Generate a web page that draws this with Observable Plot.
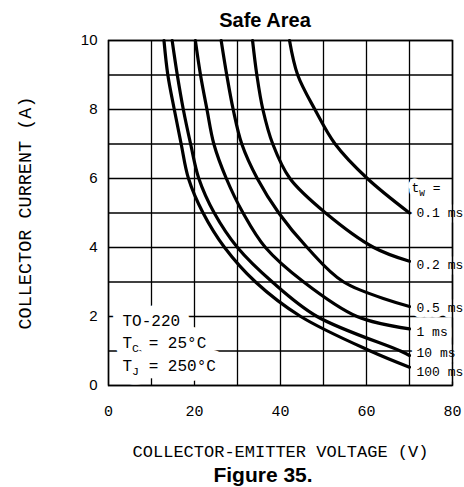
<!DOCTYPE html>
<html><head><meta charset="utf-8">
<script src="https://cdn.jsdelivr.net/npm/d3@7"></script>
<script src="https://cdn.jsdelivr.net/npm/@observablehq/plot@0.6"></script>
<style>
body{margin:0;background:#fff;}
#wrap{position:relative;width:464px;height:487px;overflow:hidden;}
#title{position:absolute;left:0;top:10px;width:464px;padding-left:66px;box-sizing:border-box;text-align:center;font:bold 20px "Liberation Sans",Arial,sans-serif;line-height:20px;color:#000;}
#chart{position:absolute;left:0;top:30px;}
#caption{position:absolute;left:0;top:464px;width:464px;padding-left:62px;box-sizing:border-box;text-align:center;font:bold 21px "Liberation Sans",Arial,sans-serif;line-height:21px;color:#000;}
</style></head>
<body>
<div id="wrap">
<div id="title">Safe Area</div>
<div id="chart"></div>
<div id="caption">Figure 35.</div>
</div>
<script>
// ---- data ----
const pulseWidths = ["0.1 ms", "0.2 ms", "0.5 ms", "1 ms", "10 ms", "100 ms"];

const volts_0p1ms = [42.1, 44.0, 48.0, 52.7, 60.2, 70];
const amps_0p1ms  = [10, 9, 8, 7, 6, 5];

const volts_0p2ms = [33.5, 34.5, 35.9, 38.2, 42.2, 50.5, 61.7, 70];
const amps_0p2ms  = [10, 9, 8, 7, 6, 5, 4, 3.6];

const volts_0p5ms = [26.2, 27.5, 29.0, 31.0, 34.6, 39.6, 46.2, 54.7, 70];
const amps_0p5ms  = [10, 9, 8, 7, 6, 5, 4, 3, 2.29];

const volts_1ms = [20.2, 21.4, 22.9, 24.5, 27.4, 31.3, 36.5, 45.4, 57.8, 70];
const amps_1ms  = [10, 9, 8, 7, 6, 5, 4, 3, 2, 1.64];

const volts_10ms = [14.8, 16.0, 17.4, 19.1, 21.0, 24.6, 30.0, 38.1, 48.5, 67.9, 70];
const amps_10ms  = [10, 9, 8, 7, 6, 5, 4, 3, 2, 1, 0.87];

const volts_100ms = [12.9, 13.8, 15.3, 16.9, 18.6, 22.0, 27.0, 34.2, 44.7, 60.9, 70];
const amps_100ms  = [10, 9, 8, 7, 6, 5, 4, 3, 2, 1, 0.53];

const xTickLabels = [0, 20, 40, 60, 80];
const yTickLabels = [0, 2, 4, 6, 8, 10];
const xGridValues = [0, 10, 20, 30, 40, 50, 60, 70, 80];
const yGridValues = [0, 1, 2, 3, 4, 5, 6, 7, 8, 9, 10];

const legendLines = ["TO-220", "T_{C} = 25°C", "T_{J} = 250°C"];
const pulseHeading = "t_{W} =";
const xTitle = "COLLECTOR-EMITTER VOLTAGE (V)";
const yTitle = "COLLECTOR CURRENT (A)";

// ---- build table ----
const seriesVolts = [volts_0p1ms, volts_0p2ms, volts_0p5ms, volts_1ms, volts_10ms, volts_100ms];
const seriesAmps  = [amps_0p1ms, amps_0p2ms, amps_0p5ms, amps_1ms, amps_10ms, amps_100ms];
const points = pulseWidths.flatMap((tw, k) => seriesVolts[k].map((v, j) => ({tw, v, a: seriesAmps[k][j]})));
const ends = pulseWidths.map((tw, k) => ({tw, v: seriesVolts[k].at(-1), a: seriesAmps[k].at(-1)}));

// styling nudges for label placement (pixels)
const labelNudge = {"0.1 ms": 0, "0.2 ms": 4, "0.5 ms": 1, "1 ms": 3, "10 ms": -3, "100 ms": 5};

const mono = "'Liberation Mono', 'DejaVu Sans Mono', monospace";
const sans = "'Liberation Sans', Arial, sans-serif";

// annotation specs: [data, options, halo width]
const labelStyle = {x: "v", y: "a", textAnchor: "start", dx: 7, fontFamily: mono, fontSize: 13};
const legendStyle = {frameAnchor: "bottom-left", textAnchor: "start", lineAnchor: "bottom", dx: 14, fontFamily: mono, fontSize: 16};
const annotations = [
  ...ends.map(d => [[d], {...labelStyle, text: "tw", dy: labelNudge[d.tw]}, 11]),
  [ends.slice(0, 1), {...labelStyle, text: () => pulseHeading, dx: 2, dy: -25}, 9],
  [legendLines.slice(0, 1), {...legendStyle, dy: -60}, 20],
  [legendLines.slice(1, 2), {...legendStyle, dy: -38}, 20],
  [legendLines.slice(2, 3), {...legendStyle, dy: -15}, 20]
];
// all white knock-outs first, then all black texts
const haloMarks = annotations.map(([d, o, w]) => Plot.text(d, {...o, fill: "white", stroke: "white", strokeWidth: w, strokeLinejoin: "round"}));
const textMarks = annotations.map(([d, o]) => Plot.text(d, {...o, fill: "black"}));

const chart = Plot.plot({
  width: 464, height: 434,
  marginTop: 10, marginLeft: 108, marginRight: 12, marginBottom: 79,
  x: {domain: [0, 80]},
  y: {domain: [0, 10]},
  style: {background: "white", color: "black"},
  marks: [
    Plot.gridX(xGridValues, {stroke: "black", strokeOpacity: 1, strokeWidth: 1.3}),
    Plot.gridY(yGridValues, {stroke: "black", strokeOpacity: 1, strokeWidth: 1.3}),
    Plot.line(points, {x: "v", y: "a", z: "tw", stroke: "black", strokeWidth: 3.2, curve: "catmull-rom"}),
    ...haloMarks,
    Plot.frame({stroke: "black", strokeWidth: 1.5}),
    ...textMarks,
    Plot.axisX(xTickLabels, {tickSize: 0, tickPadding: 20, fontFamily: mono, fontSize: 15, label: null}),
    Plot.axisY(yTickLabels, {tickSize: 0, tickPadding: 11, fontFamily: sans, fontSize: 15, label: null}),
    Plot.text([xTitle], {frameAnchor: "bottom", textAnchor: "middle", dy: 71, fontFamily: mono, fontSize: 17}),
    Plot.text([yTitle], {frameAnchor: "left", textAnchor: "middle", rotate: -90, dx: -83, fontFamily: mono, fontSize: 18.5})
  ]
});

// subscripts: "X_{s}rest"
const NS = "http://www.w3.org/2000/svg";
chart.querySelectorAll("text").forEach(t => {
  const s = t.textContent;
  const m = s.match(/^(.*?)_\{(.*?)\}(.*)$/);
  if (!m) return;
  t.textContent = "";
  const a = document.createElementNS(NS, "tspan"); a.textContent = m[1];
  const b = document.createElementNS(NS, "tspan"); b.textContent = m[2];
  b.setAttribute("dy", "4"); b.setAttribute("font-size", "0.72em");
  const c = document.createElementNS(NS, "tspan"); c.textContent = m[3];
  c.setAttribute("dy", "-4");
  t.append(a, b, c);
});

document.getElementById("chart").append(chart);
</script>
</body></html>
